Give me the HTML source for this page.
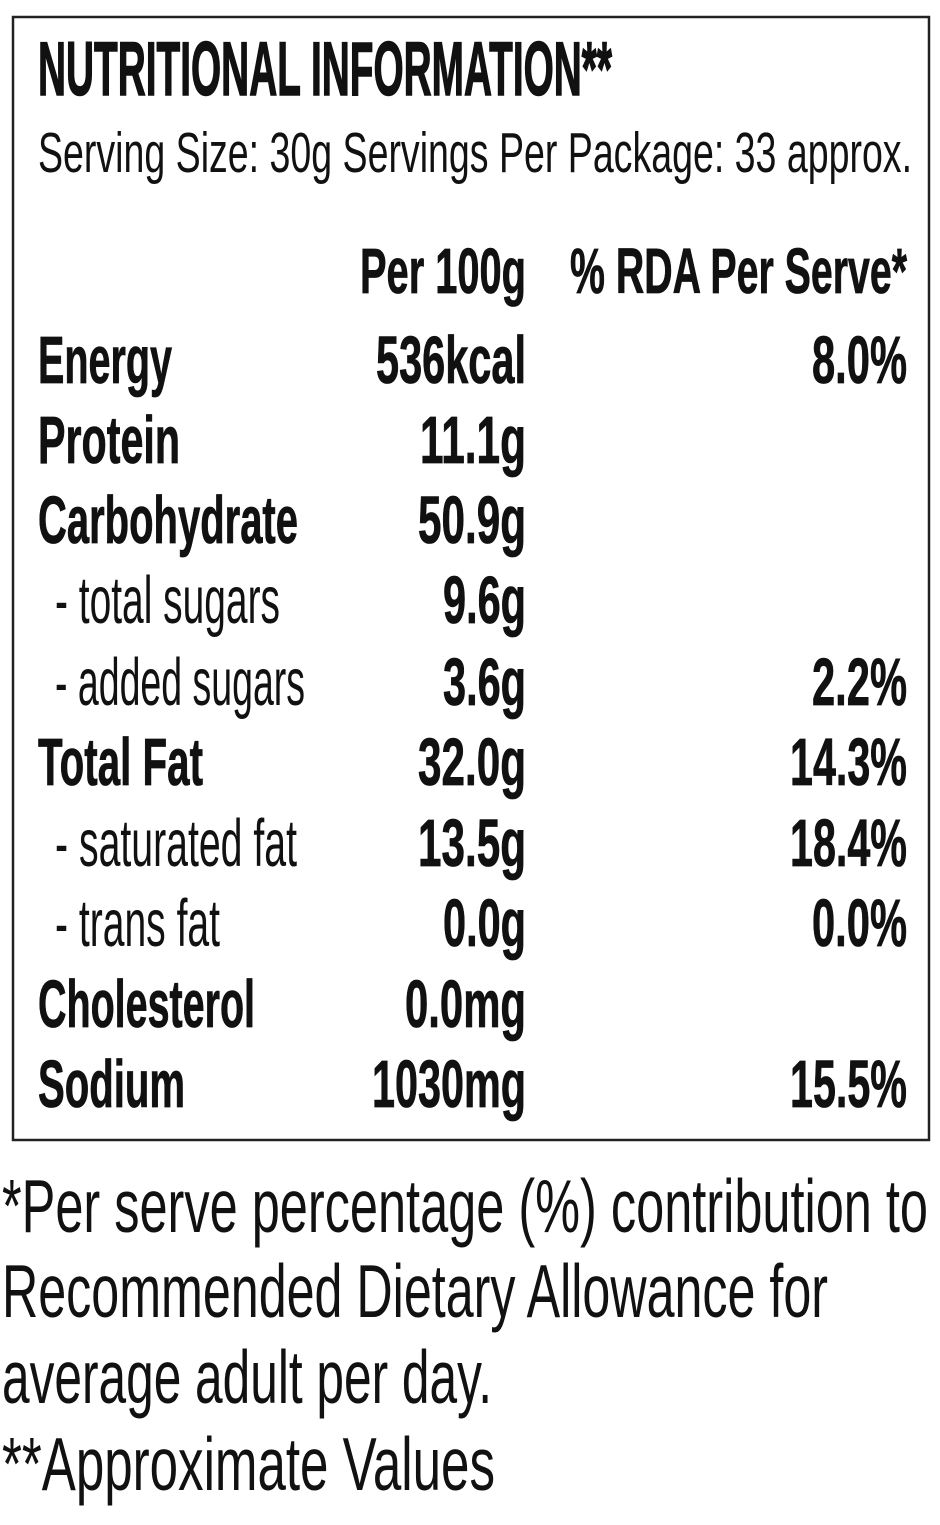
<!DOCTYPE html>
<html><head><meta charset="utf-8"><style>
html,body{margin:0;padding:0;background:#fff;}
svg{display:block;}
text{font-family:"Liberation Sans",sans-serif;fill:#111;}
.b{font-weight:bold;stroke:#111;stroke-width:0.8;}
</style></head><body>
<svg width="940" height="1525" viewBox="0 0 940 1525" xmlns="http://www.w3.org/2000/svg">
<rect x="13" y="17" width="916" height="1123" fill="none" stroke="#222" stroke-width="2.5"/>
<text class="b" x="38" y="95" font-size="76" textLength="574" lengthAdjust="spacingAndGlyphs" style="stroke-width:1.5">NUTRITIONAL INFORMATION**</text>
<text x="38" y="172" font-size="57" textLength="874" lengthAdjust="spacingAndGlyphs">Serving Size: 30g  Servings Per Package: 33 approx.</text>
<text class="b" x="526" y="293" font-size="64" text-anchor="end" textLength="166" lengthAdjust="spacingAndGlyphs">Per 100g</text>
<text class="b" x="907" y="293" font-size="64" text-anchor="end" textLength="337" lengthAdjust="spacingAndGlyphs">% RDA Per Serve*</text>

<g font-size="67">
<text class="b" x="38" y="383" textLength="134" lengthAdjust="spacingAndGlyphs">Energy</text>
<text class="b" x="38" y="463" textLength="142" lengthAdjust="spacingAndGlyphs">Protein</text>
<text class="b" x="38" y="543" textLength="260" lengthAdjust="spacingAndGlyphs">Carbohydrate</text>
<text x="55" y="623" textLength="225" lengthAdjust="spacingAndGlyphs">- total sugars</text>
<text x="55" y="705" textLength="250" lengthAdjust="spacingAndGlyphs">- added sugars</text>
<text class="b" x="38" y="785" textLength="165" lengthAdjust="spacingAndGlyphs">Total Fat</text>
<text x="55" y="866" textLength="242" lengthAdjust="spacingAndGlyphs">- saturated fat</text>
<text x="55" y="946" textLength="165" lengthAdjust="spacingAndGlyphs">- trans fat</text>
<text class="b" x="38" y="1027" textLength="217" lengthAdjust="spacingAndGlyphs">Cholesterol</text>
<text class="b" x="38" y="1107" textLength="147" lengthAdjust="spacingAndGlyphs">Sodium</text>

<g text-anchor="end">
<text class="b" x="526" y="383" textLength="150" lengthAdjust="spacingAndGlyphs">536kcal</text>
<text class="b" x="526" y="463" textLength="106" lengthAdjust="spacingAndGlyphs">11.1g</text>
<text class="b" x="526" y="543" textLength="108" lengthAdjust="spacingAndGlyphs">50.9g</text>
<text class="b" x="526" y="623" textLength="83" lengthAdjust="spacingAndGlyphs">9.6g</text>
<text class="b" x="526" y="705" textLength="83" lengthAdjust="spacingAndGlyphs">3.6g</text>
<text class="b" x="526" y="785" textLength="108" lengthAdjust="spacingAndGlyphs">32.0g</text>
<text class="b" x="526" y="866" textLength="108" lengthAdjust="spacingAndGlyphs">13.5g</text>
<text class="b" x="526" y="946" textLength="83" lengthAdjust="spacingAndGlyphs">0.0g</text>
<text class="b" x="526" y="1027" textLength="121" lengthAdjust="spacingAndGlyphs">0.0mg</text>
<text class="b" x="526" y="1107" textLength="154" lengthAdjust="spacingAndGlyphs">1030mg</text>

<text class="b" x="907" y="383" textLength="95" lengthAdjust="spacingAndGlyphs">8.0%</text>
<text class="b" x="907" y="705" textLength="95" lengthAdjust="spacingAndGlyphs">2.2%</text>
<text class="b" x="907" y="785" textLength="117" lengthAdjust="spacingAndGlyphs">14.3%</text>
<text class="b" x="907" y="866" textLength="117" lengthAdjust="spacingAndGlyphs">18.4%</text>
<text class="b" x="907" y="946" textLength="95" lengthAdjust="spacingAndGlyphs">0.0%</text>
<text class="b" x="907" y="1107" textLength="117" lengthAdjust="spacingAndGlyphs">15.5%</text>
</g>
</g>

<g font-size="75">
<text x="2" y="1232" textLength="926" lengthAdjust="spacingAndGlyphs">*Per serve percentage (%) contribution to</text>
<text x="2" y="1317" textLength="826" lengthAdjust="spacingAndGlyphs">Recommended Dietary Allowance for</text>
<text x="2" y="1403" textLength="490" lengthAdjust="spacingAndGlyphs">average adult per day.</text>
<text x="2" y="1490" textLength="493" lengthAdjust="spacingAndGlyphs">**Approximate Values</text>
</g>
</svg>
</body></html>
